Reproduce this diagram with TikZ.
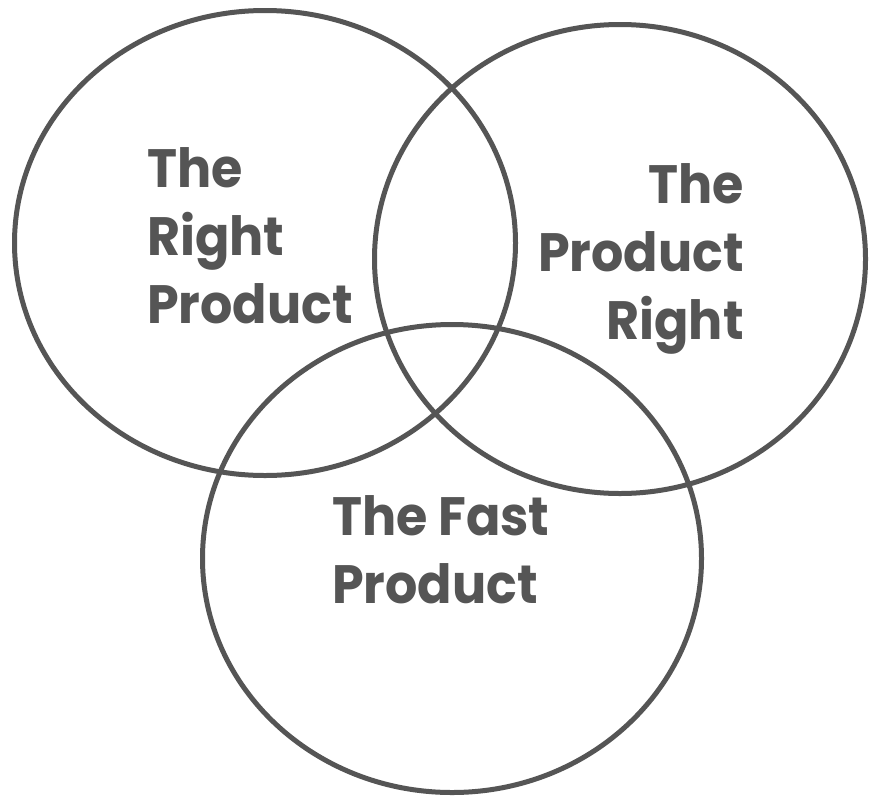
\documentclass[tikz,border=0pt]{standalone}
\usepackage{fontspec}
\setmainfont{Poppins}[FakeStretch=0.94]
\usetikzlibrary{shapes.geometric}
\definecolor{ink}{HTML}{555555}
\tikzset{
  ring/.style={ellipse, draw=ink, line width=5pt, inner sep=0pt},
  label/.style={inner sep=0pt, text=ink, font=\fontsize{54}{68}\selectfont\bfseries},
}
\begin{document}
\begin{tikzpicture}[x=1pt,y=-1pt]
\useasboundingbox[fill=white] (0,0) rectangle (872,798);
% the three overlapping circles
\node[ring, minimum width=501pt, minimum height=465pt] (c1) at (265,243) {};
\node[ring, minimum width=491pt, minimum height=469pt] (c2) at (620,259) {};
\node[ring, minimum width=499pt, minimum height=468pt] (c3) at (452,558.5) {};
% left circle caption
\node[label, anchor=base west] (l1) at (147,187) {The};
\node[label, anchor=base west] (l2) at (147,255) {Right};
\node[label, anchor=base west] (l3) at (147,323) {Product};
% right circle caption
\node[label, anchor=base east] (r1) at (744,203) {The};
\node[label, anchor=base east] (r2) at (744,271) {Product};
\node[label, anchor=base east] (r3) at (744,339) {Right};
% bottom circle caption
\node[label, anchor=base west] (b1) at (332,535) {The Fast};
\node[label, anchor=base west] (b2) at (332,603) {Product};
\end{tikzpicture}
\end{document}
